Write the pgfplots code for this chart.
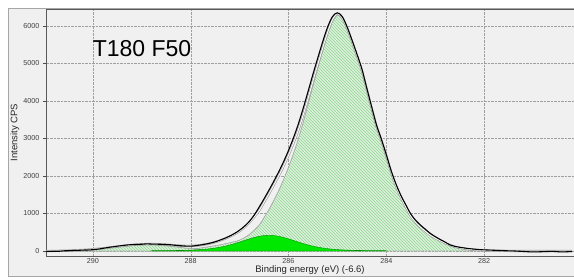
\documentclass[border=0pt]{standalone}
\usepackage{fontspec}
\setmainfont{Liberation Sans}
\usepackage{pgfplots}
\pgfplotsset{compat=1.18}
\usepackage{pgfplotstable}
\usetikzlibrary{patterns}
\definecolor{panel}{RGB}{240,240,240}
\definecolor{hatchbg}{RGB}{218,243,218}
\definecolor{hatchln}{RGB}{150,210,150}
\definecolor{smallgreen}{RGB}{0,232,0}

\pgfplotstableread{
x y
291.0 -15
290.9 -10
290.8 -5
290.7 -8
290.6 5
290.5 8
290.4 15
290.3 18
290.2 25
290.1 28
290.0 35
289.9 50
289.8 70
289.7 92
289.6 110
289.5 128
289.4 145
289.3 160
289.2 170
289.1 176
289.0 180
288.9 190
288.8 185
288.7 183
288.6 178
288.5 172
288.4 165
288.3 150
288.2 140
288.1 132
288.0 130
287.9 142
287.8 160
287.7 182
287.6 210
287.5 245
287.4 290
287.3 340
287.2 400
287.1 470
287.0 555
286.9 660
286.8 790
286.7 960
286.6 1170
286.5 1390
286.4 1620
286.3 1860
286.2 2110
286.1 2380
286.0 2680
285.9 3010
285.8 3380
285.7 3800
285.6 4250
285.5 4710
285.4 5150
285.3 5580
285.2 5970
285.1 6250
285.0 6350
284.9 6250
284.8 5970
284.7 5620
284.6 5250
284.5 4860
284.4 4350
284.3 3850
284.2 3360
284.1 2980
284.0 2570
283.9 2140
283.8 1780
283.7 1480
283.6 1230
283.5 990
283.4 820
283.3 690
283.2 580
283.1 470
283.0 385
282.9 310
282.8 240
282.7 165
282.6 125
282.5 100
282.4 80
282.3 62
282.2 50
282.1 38
282.0 30
281.8 20
281.6 8
281.4 2
281.2 -12
281.0 -25
280.8 -18
280.6 -10
280.4 -25
280.2 -12
}\measured

\pgfplotstableread{
x y
291.0 0
290.6 6
290.4 18
290.2 29
290.0 48
289.8 72
289.6 102
289.4 133
289.2 161
289.0 180
288.8 186
288.6 178
288.4 160
288.2 142
288.0 135
287.8 158
287.6 203
287.4 277
287.2 385
287.0 530
286.8 760
286.6 1080
286.5 1300
286.4 1525
286.3 1760
286.2 2005
286.1 2265
286.0 2555
285.9 2870
285.8 3220
285.7 3625
285.6 4065
285.5 4530
285.4 4975
285.3 5415
285.2 5830
285.1 6170
285.0 6330
284.9 6215
284.8 5935
284.7 5580
284.6 5205
284.5 4815
284.4 4315
284.3 3810
284.2 3330
284.1 2950
284.0 2540
283.9 2100
283.8 1730
283.7 1430
283.6 1175
283.5 935
283.4 765
283.3 635
283.2 525
283.1 425
283.0 345
282.8 213
282.6 113
282.4 62
282.2 31
282.0 16
281.8 9
281.5 3
281.0 0
280.2 0
}\envelope

\pgfplotstableread{
x y
290.4 6
290.0 8
289.5 12
289.0 18
288.8 21
288.6 25
288.4 30
288.2 38
288.0 50
287.8 80
287.6 120
287.4 165
287.2 220
287.0 290
286.8 440
286.6 688
286.5 890
286.4 1105
286.3 1350
286.2 1613
286.1 1905
286.0 2232
285.9 2588
285.8 2981
285.7 3425
285.6 3904
285.5 4400
285.4 4873
285.3 5335
285.2 5768
285.1 6120
285.0 6290
284.9 6185
284.8 5910
284.7 5560
284.6 5190
284.5 4800
284.4 4300
284.3 3800
284.2 3320
284.1 2940
284.0 2530
283.9 2090
283.8 1720
283.7 1420
283.6 1170
283.5 930
283.4 760
283.3 630
283.2 520
283.1 420
283.0 340
282.8 210
282.6 110
282.4 60
282.2 30
282.0 15
281.8 8
281.5 3
281.0 0
}\mainpeak

\pgfplotstableread{
x y
288.8 9
288.4 13
288.2 17
288.0 24
287.8 38
287.6 62
287.4 102
287.2 161
287.0 239
286.8 323
286.6 392
286.4 420
286.2 392
286.0 323
285.8 239
285.6 161
285.4 102
285.2 62
285.0 38
284.8 24
284.6 17
284.4 13
284.0 9
}\smallpeak

\pgfplotstableread{
x y
290.7 4
290.5 8
290.3 16
290.1 30
289.9 51
289.7 77
289.5 108
289.3 137
289.1 157
288.9 165
288.7 157
288.5 137
288.3 108
288.1 77
287.9 51
287.7 30
287.5 16
287.3 8
287.1 4
}\bump

\begin{document}
\begin{tikzpicture}
\useasboundingbox (0,0) rectangle (574pt,280pt);
\fill[white] (0,0) rectangle (574pt,280pt);
\filldraw[fill=panel, draw=gray!70, line width=0.6pt] (8pt,4pt) rectangle (580pt,272pt);
\begin{axis}[
  at={(46pt,24pt)}, anchor=south west,
  width=528pt, height=247pt, scale only axis,
  x dir=reverse,
  xmin=280.16, xmax=290.96,
  ymin=-133, ymax=6453,
  xtick={282,284,286,288,290},
  ytick={0,1000,2000,3000,4000,5000,6000},
  grid=major,
  grid style={gray!75, line width=0.4pt, dash pattern=on 0.7pt off 0.7pt},
  axis background/.style={fill=panel},
  axis line style={black!65, line width=0.8pt},
  tick style={black!70, line width=0.5pt},
  tick align=outside,
  major tick length=3pt,
  xtick style={draw=none},
  /pgf/number format/assume math mode=true,
  /pgf/number format/set thousands separator={},
  ticklabel style={font=\fontsize{7.2}{8}\selectfont, text=black!75},
  xticklabel style={yshift=4.5pt},
  xlabel={Binding energy (eV) (-6.6)},
  ylabel={Intensity CPS},
  label style={font=\fontsize{9.5}{11}\selectfont, text=black!85},
  xlabel style={at={(axis description cs:0.5,-0.058)}, anchor=center},
  ylabel style={at={(axis description cs:-0.059,0.5)}, anchor=center},
]
\addplot[smooth, draw=gray!70, line width=0.4pt, preaction={fill=hatchbg}, pattern=north west lines, pattern color=hatchln] table[x=x,y=y] {\mainpeak} \closedcycle;
\addplot[smooth, draw=gray!70, line width=0.4pt, preaction={fill=hatchbg}, pattern=north west lines, pattern color=hatchln] table[x=x,y=y] {\bump} \closedcycle;
\addplot[smooth, draw=green!55!black, line width=0.4pt, fill=smallgreen] table[x=x,y=y] {\smallpeak} \closedcycle;
\addplot[smooth, draw=gray!80, line width=2.2pt] table[x=x,y=y] {\envelope};
\addplot[smooth, draw=white, line width=0.9pt] table[x=x,y=y] {\envelope};
\addplot[smooth, draw=black, line width=1.1pt] table[x=x,y=y] {\measured};
\node[anchor=west, font=\fontsize{23}{26}\selectfont, text=black] at (axis description cs:0.082,0.838) {T180 F50};
\end{axis}
\end{tikzpicture}
\end{document}
